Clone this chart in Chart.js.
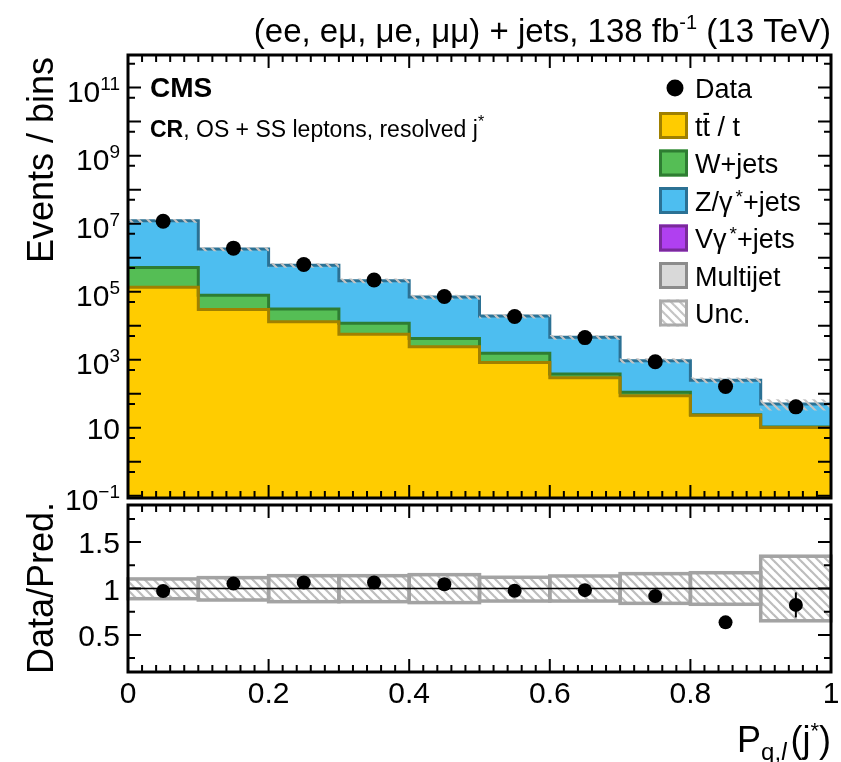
<!DOCTYPE html>
<html>
<head>
<meta charset="utf-8">
<script src="https://cdn.jsdelivr.net/npm/chart.js@4.4.1/dist/chart.umd.min.js"></script>
<style>
  body { margin: 0; background: #fff; }
  #wrap { position: relative; width: 841px; height: 762px; }
  #main { position: absolute; left: 0; top: 0; }
  #ratio { position: absolute; left: 0; top: 498px; }
</style>
</head>
<body>
<div id="wrap">
  <canvas id="main" width="841" height="520"></canvas>
  <canvas id="ratio" width="841" height="264"></canvas>
</div>
<script>
// bins of P_q,l(j*)
var binEdges = [0, 0.1, 0.2, 0.3, 0.4, 0.5, 0.6, 0.7, 0.8, 0.9, 1.0];

// stacked backgrounds (events per bin)
var ttbarT = [135000, 30000, 13000, 5600, 2400, 830, 295, 87, 23, 10.2];
var wJets = [375000, 48000, 18000, 6200, 1800, 720, 85, 23, 1, 0.3];
var zJets = [11700000, 1720000, 570000, 198000, 65000, 17700, 4200, 825, 226, 39.5];
var dataEvents = [11700000, 1900000, 630000, 220000, 72000, 18500, 4450, 865, 163, 41];

// ratio panel
var ratioVals = [0.972, 1.053, 1.064, 1.064, 1.046, 0.975, 0.982, 0.918, 0.635, 0.823];
var ratioErr = [0.003, 0.005, 0.006, 0.008, 0.01, 0.015, 0.02, 0.035, 0.05, 0.135];
var uncUp = [1.103, 1.117, 1.138, 1.138, 1.149, 1.121, 1.135, 1.16, 1.17, 1.348];
var uncDown = [0.89, 0.876, 0.858, 0.858, 0.848, 0.865, 0.865, 0.84, 0.83, 0.652];

// axis labels
var yLabelPowers = [-1, 1, 3, 5, 7, 9, 11];
var xLabels = [0, 0.2, 0.4, 0.6, 0.8, 1];
var ratioLabels = [0.5, 1, 1.5];

var FONT = '"Liberation Sans", Arial, Helvetica, sans-serif';
var colTT = '#FFCC00', colTTLine = '#A08000';
var colW = '#55BE55', colWLine = '#2E7D32';
var colZ = '#4DBEF0', colZLine = '#2B7194';
var colV = '#B040F0', colVLine = '#7A2A9A';
var colMJ = '#D9D9D9', colMJLine = '#8C8C8C';

var ttW = [], total = [], centers = [];
for (var i = 0; i < ttbarT.length; i++) {
  ttW.push(ttbarT[i] + wJets[i]);
  total.push(ttW[i] + zJets[i]);
  centers.push((binEdges[i] + binEdges[i + 1]) / 2);
}

function stepPoints(vals) {
  var pts = [];
  for (var i = 0; i < vals.length; i++) pts.push({x: binEdges[i], y: vals[i]});
  pts.push({x: binEdges[vals.length], y: vals[vals.length - 1]});
  return pts;
}

function hatch(canvas, color, width, step) {
  var c = document.createElement('canvas');
  c.width = step; c.height = step;
  var g = c.getContext('2d');
  g.strokeStyle = color;
  g.lineWidth = width;
  for (var k = -step; k <= step; k += step) {
    g.beginPath();
    g.moveTo(-1, k - 1);
    g.lineTo(step + 1, step + k + 1);
    g.stroke();
  }
  return canvas.getContext('2d').createPattern(c, 'repeat');
}

function font(p) {
  return (p.i ? 'italic ' : '') + (p.b ? 'bold ' : '') + (p.s || 27) + 'px ' + FONT;
}

function richText(ctx, x, y, parts, align) {
  var w = 0;
  parts.forEach(function(p) {
    ctx.font = font(p);
    p.w = ctx.measureText(p.t).width;
    w += p.w + (p.gap || 0);
  });
  var cx = align === 'right' ? x - w : (align === 'center' ? x - w / 2 : x);
  ctx.textAlign = 'left';
  ctx.textBaseline = 'alphabetic';
  parts.forEach(function(p) {
    ctx.font = font(p);
    ctx.fillText(p.t, cx, y + (p.dy || 0));
    if (p.bar) {
      ctx.save();
      ctx.lineWidth = 2;
      ctx.strokeStyle = ctx.fillStyle;
      ctx.beginPath();
      ctx.moveTo(cx + 1, y - (p.s || 27) * 0.8);
      ctx.lineTo(cx + p.w - 1, y - (p.s || 27) * 0.8);
      ctx.stroke();
      ctx.restore();
    }
    cx += p.w + (p.gap || 0);
  });
}

function xFrameTicks(ctx, a, xs) {
  ctx.strokeStyle = '#000';
  ctx.lineWidth = 2;
  for (var i = 0; i <= 50; i++) {
    var x = xs.getPixelForValue(i / 50);
    var len = i % 10 === 0 ? 13 : 7;
    ctx.beginPath();
    ctx.moveTo(x, a.bottom); ctx.lineTo(x, a.bottom - len);
    ctx.moveTo(x, a.top); ctx.lineTo(x, a.top + len);
    ctx.stroke();
  }
}

function sideTick(ctx, a, y, len) {
  ctx.beginPath();
  ctx.moveTo(a.left, y); ctx.lineTo(a.left + len, y);
  ctx.moveTo(a.right, y); ctx.lineTo(a.right - len, y);
  ctx.stroke();
}

var mainCanvas = document.getElementById('main');
var ratioCanvas = document.getElementById('ratio');
var hatchMain = hatch(mainCanvas, '#C4C4C4', 2.2, 9);
var hatchRatio = hatch(ratioCanvas, '#BDBDBD', 2.2, 9);

var mainDecor = {
  id: 'mainDecor',
  afterDraw: function(chart) {
    var ctx = chart.ctx, a = chart.chartArea;
    var xs = chart.scales.x, ys = chart.scales.y;
    ctx.save();
    xFrameTicks(ctx, a, xs);
    for (var k = -1; k <= 12; k++) {
      var v = Math.pow(10, k);
      if (v >= ys.min && v <= ys.max) sideTick(ctx, a, ys.getPixelForValue(v), 13);
      var m = 5 * Math.pow(10, k - 1);
      if (m >= ys.min && m <= ys.max) sideTick(ctx, a, ys.getPixelForValue(m), 7);
    }
    ctx.lineWidth = 3;
    ctx.strokeRect(a.left, a.top, a.right - a.left, a.bottom - a.top);

    ctx.fillStyle = '#000';
    yLabelPowers.forEach(function(p) {
      var y = ys.getPixelForValue(Math.pow(10, p));
      if (p === 1) {
        richText(ctx, a.left - 8, y + 11, [{t: '10', s: 30}], 'right');
      } else {
        var sup = p < 0 ? '\u2212' + (-p) : String(p);
        richText(ctx, a.left - 8, y + 14, [{t: '10', s: 30}, {t: sup, s: 19, dy: -12}], 'right');
      }
    });

    // y title
    ctx.save();
    ctx.translate(53, a.top + 2);
    ctx.rotate(-Math.PI / 2);
    richText(ctx, 0, 0, [{t: 'Events / bins', s: 36}], 'right');
    ctx.restore();

    // header
    richText(ctx, a.right, 42, [
      {t: '(ee, e\u03bc, \u03bce, \u03bc\u03bc) + jets, 138 fb', s: 33},
      {t: '-1', s: 20, dy: -13},
      {t: ' (13 TeV)', s: 33}
    ], 'right');

    richText(ctx, a.left + 22, a.top + 42, [{t: 'CMS', s: 28, b: true}], 'left');
    richText(ctx, a.left + 22, a.top + 82, [
      {t: 'CR', s: 23, b: true},
      {t: ', OS + SS leptons, resolved j', s: 23},
      {t: '*', s: 16, dy: -10}
    ], 'left');

    // legend
    var lx = a.right - 172, ly = a.top + 33, dy = 37.5;
    var rows = [
      {parts: [{t: 'Data'}], marker: true},
      {parts: [{t: 't'}, {t: 't', bar: true}, {t: ' / t'}], fill: colTT, line: colTTLine},
      {parts: [{t: 'W+jets'}], fill: colW, line: colWLine},
      {parts: [{t: 'Z/\u03b3', gap: 3}, {t: '*', s: 19, dy: -8}, {t: '+jets'}], fill: colZ, line: colZLine},
      {parts: [{t: 'V\u03b3', gap: 3}, {t: '*', s: 19, dy: -8}, {t: '+jets'}], fill: colV, line: colVLine},
      {parts: [{t: 'Multijet'}], fill: colMJ, line: colMJLine},
      {parts: [{t: 'Unc.'}], fill: hatchMain, line: '#AAAAAA'}
    ];
    rows.forEach(function(r, idx) {
      var cy = ly + idx * dy;
      if (r.marker) {
        ctx.fillStyle = '#000';
        ctx.beginPath();
        ctx.arc(lx + 16, cy, 8.5, 0, Math.PI * 2);
        ctx.fill();
      } else {
        ctx.fillStyle = '#fff';
        ctx.fillRect(lx, cy - 13.5, 29, 27);
        ctx.fillStyle = r.fill;
        ctx.fillRect(lx, cy - 13.5, 29, 27);
        ctx.strokeStyle = r.line;
        ctx.lineWidth = 3;
        ctx.strokeRect(lx + 1.5, cy - 12, 26, 24);
      }
      ctx.fillStyle = '#000';
      richText(ctx, lx + 36, cy + 10, r.parts, 'left');
    });
    ctx.restore();
  }
};

new Chart(mainCanvas, {
  type: 'bar',
  data: {
    datasets: [
      {
        type: 'line', showLine: false, order: 0,
        data: centers.map(function(c, i) { return {x: c, y: dataEvents[i]}; }),
        pointRadius: 7.5, pointBackgroundColor: '#000', pointBorderWidth: 0
      },
      {
        type: 'bar', order: 1,
        data: centers.map(function(c, i) { return {x: c, y: [total[i] * uncDown[i], total[i] * uncUp[i]]}; }),
        backgroundColor: hatchMain, borderWidth: 0,
        barPercentage: 1, categoryPercentage: 1, grouped: false
      },
      {
        type: 'line', order: 2, stepped: true, pointRadius: 0,
        data: stepPoints(ttbarT), borderColor: colTTLine, borderWidth: 3,
        backgroundColor: colTT, fill: 'start'
      },
      {
        type: 'line', order: 3, stepped: true, pointRadius: 0,
        data: stepPoints(ttW), borderColor: colWLine, borderWidth: 3,
        backgroundColor: colW, fill: 2
      },
      {
        type: 'line', order: 4, stepped: true, pointRadius: 0,
        data: stepPoints(total), borderColor: colZLine, borderWidth: 3,
        backgroundColor: colZ, fill: 3
      }
    ]
  },
  options: {
    responsive: false, animation: false, devicePixelRatio: 1,
    layout: {padding: {left: 128, right: 10, top: 55, bottom: 22}},
    scales: {
      x: {type: 'linear', display: false, min: 0, max: 1, offset: false, ticks: {stepSize: 0.1}},
      y: {type: 'logarithmic', display: false, min: 0.0855, max: 9.1e11}
    },
    plugins: {
      legend: {display: false},
      tooltip: {enabled: false},
      filler: {drawTime: 'beforeDatasetsDraw'}
    }
  },
  plugins: [mainDecor]
});

var ratioDecor = {
  id: 'ratioDecor',
  afterDatasetDraw: function(chart, args) {
    if (args.index !== 1) return;
    var ctx = chart.ctx, a = chart.chartArea, ys = chart.scales.y;
    ctx.save();
    ctx.strokeStyle = '#A3A3A3';
    ctx.lineWidth = 3.5;
    args.meta.data.forEach(function(el) {
      var p = el.getProps(['x', 'y', 'base', 'width'], true);
      ctx.strokeRect(p.x - p.width / 2, Math.min(p.y, p.base), p.width, Math.abs(p.base - p.y));
    });
    var y1 = ys.getPixelForValue(1);
    ctx.strokeStyle = '#000';
    ctx.lineWidth = 1.5;
    ctx.beginPath();
    ctx.moveTo(a.left, y1); ctx.lineTo(a.right, y1);
    ctx.stroke();
    ctx.restore();
  },
  afterDraw: function(chart) {
    var ctx = chart.ctx, a = chart.chartArea;
    var xs = chart.scales.x, ys = chart.scales.y;
    ctx.save();
    // error bars
    ctx.strokeStyle = '#000';
    ctx.lineWidth = 2;
    centers.forEach(function(c, i) {
      var x = xs.getPixelForValue(c);
      ctx.beginPath();
      ctx.moveTo(x, ys.getPixelForValue(ratioVals[i] - ratioErr[i]));
      ctx.lineTo(x, ys.getPixelForValue(ratioVals[i] + ratioErr[i]));
      ctx.stroke();
    });
    xFrameTicks(ctx, a, xs);
    for (var t = 0.25; t < 1.9; t += 0.25) {
      var major = Math.abs(t * 2 - Math.round(t * 2)) < 1e-6;
      sideTick(ctx, a, ys.getPixelForValue(t), major ? 13 : 7);
    }
    ctx.lineWidth = 3;
    ctx.strokeRect(a.left, a.top, a.right - a.left, a.bottom - a.top);

    ctx.fillStyle = '#000';
    ratioLabels.forEach(function(v) {
      richText(ctx, a.left - 8, ys.getPixelForValue(v) + 11, [{t: String(v), s: 30}], 'right');
    });
    xLabels.forEach(function(v) {
      richText(ctx, xs.getPixelForValue(v), a.bottom + 31, [{t: String(v), s: 30}], 'center');
    });

    ctx.save();
    ctx.translate(53, 4);
    ctx.rotate(-Math.PI / 2);
    richText(ctx, 0, 0, [{t: 'Data/Pred.', s: 36}], 'right');
    ctx.restore();

    richText(ctx, a.right, 254, [
      {t: 'P', s: 36},
      {t: 'q,', s: 24, dy: 8},
      {t: 'l', s: 24, dy: 8, i: true, gap: 4},
      {t: '(j', s: 36},
      {t: '*', s: 22, dy: -14},
      {t: ')', s: 36}
    ], 'right');
    ctx.restore();
  }
};

new Chart(ratioCanvas, {
  type: 'bar',
  data: {
    datasets: [
      {
        type: 'line', showLine: false, order: 0,
        data: centers.map(function(c, i) { return {x: c, y: ratioVals[i]}; }),
        pointRadius: 7, pointBackgroundColor: '#000', pointBorderWidth: 0
      },
      {
        type: 'bar', order: 1,
        data: centers.map(function(c, i) { return {x: c, y: [uncDown[i], uncUp[i]]}; }),
        backgroundColor: hatchRatio, borderWidth: 0,
        barPercentage: 1, categoryPercentage: 1, grouped: false
      }
    ]
  },
  options: {
    responsive: false, animation: false, devicePixelRatio: 1,
    layout: {padding: {left: 128, right: 10, top: 1, bottom: 90}},
    scales: {
      x: {type: 'linear', display: false, min: 0, max: 1, offset: false, ticks: {stepSize: 0.1}},
      y: {type: 'linear', display: false, min: 0.1, max: 1.9}
    },
    plugins: {legend: {display: false}, tooltip: {enabled: false}}
  },
  plugins: [ratioDecor]
});
</script>
</body>
</html>
